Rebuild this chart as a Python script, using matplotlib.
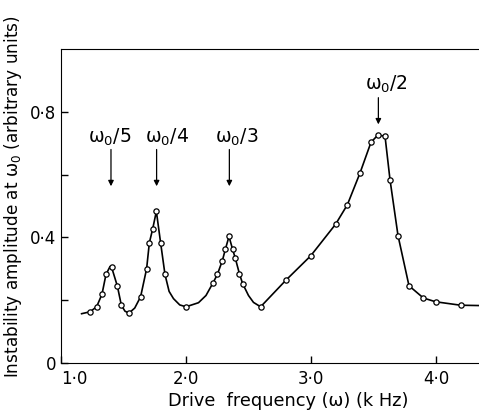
import numpy as np
import matplotlib
matplotlib.use("Agg")
import matplotlib.pyplot as plt

# measured points (open circles)
freq_pts = [1.232, 1.285, 1.328, 1.36, 1.405, 1.451, 1.483, 1.544, 1.637, 1.685,
            1.707, 1.733, 1.763, 1.797, 1.832, 2.0, 2.216, 2.251, 2.291, 2.315,
            2.344, 2.373, 2.395, 2.427, 2.453, 2.597, 2.8, 2.997, 3.197, 3.291,
            3.392, 3.48, 3.533, 3.592, 3.632, 3.696, 3.784, 3.899, 3.997, 4.197]
amp_pts = [0.163, 0.179, 0.219, 0.282, 0.305, 0.245, 0.184, 0.159, 0.211, 0.300,
           0.383, 0.426, 0.483, 0.383, 0.282, 0.179, 0.255, 0.282, 0.326, 0.362,
           0.403, 0.362, 0.333, 0.285, 0.253, 0.179, 0.264, 0.341, 0.442, 0.504,
           0.605, 0.703, 0.725, 0.723, 0.584, 0.406, 0.246, 0.207, 0.195, 0.184]

# extra points on the drawn curve (no marker)
trace_f = [1.165, 1.392, 1.512, 1.59, 1.865, 1.90, 1.95, 2.10, 2.16, 2.50, 2.54, 4.34]
trace_a = [0.157, 0.307, 0.165, 0.175, 0.228, 0.205, 0.185, 0.192, 0.215, 0.215, 0.193, 0.183]

# resonance labels
res_labels = ['ω$_0$/5', 'ω$_0$/4', 'ω$_0$/3', 'ω$_0$/2']
res_x = [1.40, 1.765, 2.347, 3.539]

plt.rcParams['font.family'] = ['DejaVu Sans']
plt.rcParams['mathtext.default'] = 'regular'

fig = plt.figure(figsize=(4.79, 4.16), dpi=100)
ax = fig.add_axes([0.1273, 0.1274, 0.8727, 0.7548])

cf = np.array(freq_pts + trace_f)
ca = np.array(amp_pts + trace_a)
order = np.argsort(cf)
ax.plot(cf[order], ca[order], color='black', lw=1.2)
ax.plot(freq_pts, amp_pts, 'o', ms=3.8, mfc='white', mec='black', mew=0.9)

# arrows + labels
tail = [0.68, 0.68, 0.68, 0.845]
tip = [0.563, 0.563, 0.563, 0.76]
txt_y = [0.718, 0.718, 0.718, 0.888]
txt_x = [1.39, 1.85, 2.41, 3.605]
for lab, x, t0, t1, tx, ty in zip(res_labels, res_x, tail, tip, txt_x, txt_y):
    ax.annotate('', xy=(x, t1), xytext=(x, t0),
                arrowprops=dict(arrowstyle='-|>', color='black', lw=0.9,
                                mutation_scale=8, shrinkA=0, shrinkB=0))
    ax.text(tx, ty, lab, ha='center', va='center', fontsize=13.5)

ax.set_xlim(1.0, 4.344)
ax.set_ylim(0, 1.0)
ax.spines['right'].set_visible(False)

ax.set_xticks([1.0, 2.0, 3.0, 4.0])
ax.set_xticklabels(['1·0', '2·0', '3·0', '4·0'])
ax.get_xticklabels()[0].set_ha('left')
ax.set_yticks([0, 0.4, 0.8])
ax.set_yticklabels(['0', '0·4', '0·8'])
ax.set_yticks([0.2, 0.6], minor=True)
ax.tick_params(axis='both', which='both', direction='in', labelsize=12,
               length=5, width=1, top=False, right=False)
ax.tick_params(axis='x', pad=5)

ax.set_xlabel('Drive  frequency (ω) (k Hz)', fontsize=12.8)
ax.xaxis.set_label_coords(0.543, -0.092)
ax.set_ylabel('Instability amplitude at ω$_0$ (arbitrary units)', fontsize=12.2)
ax.yaxis.set_label_coords(-0.088, 0.529)

fig.savefig('out.png', dpi=100)
